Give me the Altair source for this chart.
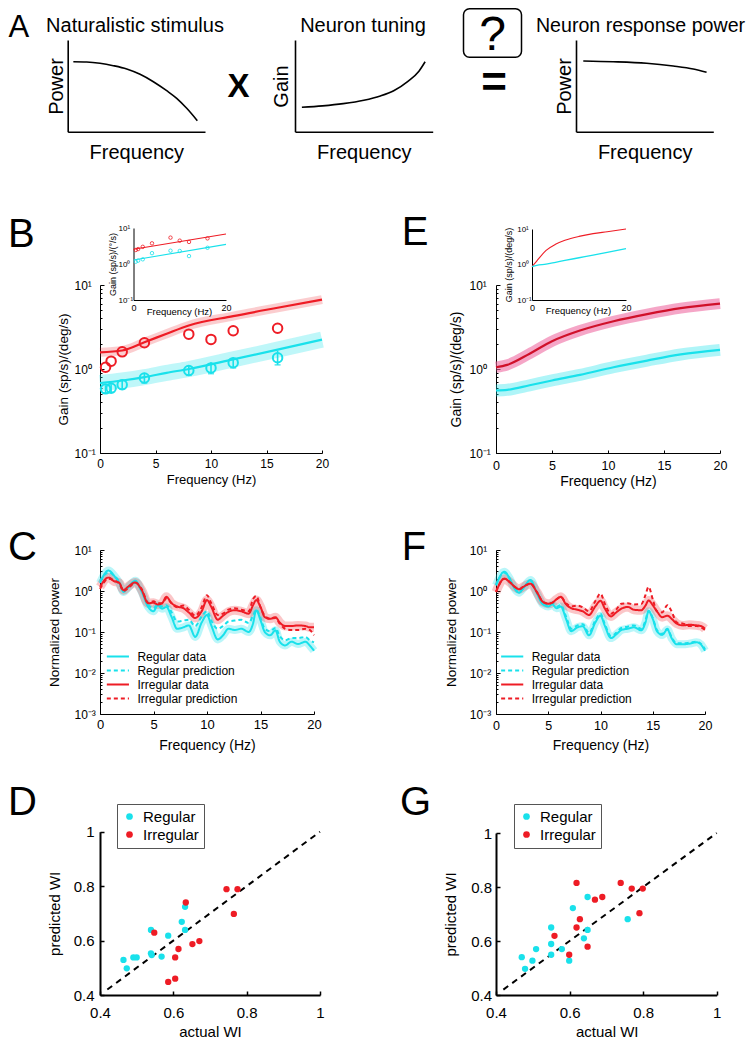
import altair as alt
import pandas as pd

W, H = 739, 1032
OFF = 8
FONT = "Liberation Sans"
CYAN = "#19e1eb"
RED = "#ee1c25"
DARKRED = "#d0102a"
BLACK = "#000000"


def P(v):
    return v - OFF


# ---------------- values ----------------
# A: schematic curves (axis units 0..1)
stim_freq = [0.041, 0.138, 0.235, 0.332, 0.43, 0.527, 0.624, 0.721, 0.794, 0.867, 0.944]
stim_power = [0.763, 0.76, 0.746, 0.72, 0.684, 0.626, 0.545, 0.447, 0.364, 0.255, 0.12]
tuning_freq = [0.05, 0.2, 0.35, 0.5, 0.62, 0.72, 0.82, 0.9, 0.945]
tuning_gain = [0.266, 0.282, 0.306, 0.343, 0.39, 0.45, 0.55, 0.66, 0.763]
resp_freq = [0.053, 0.27, 0.514, 0.708, 0.854, 0.951]
resp_power = [0.771, 0.763, 0.746, 0.716, 0.684, 0.648]

# B: gain, main plot
gainB_fit_freq = [0, 2, 4, 6, 8, 12, 16, 20]
gainB_fit_reg = [0.68, 0.73, 0.80, 0.90, 1.00, 1.30, 1.70, 2.24]
gainB_fit_irr = [1.58, 1.66, 2.08, 2.63, 3.30, 4.26, 5.36, 6.70]
gainB_data_freq = [0.5, 1, 2, 4, 8, 10, 12, 16]
gainB_data_reg = [0.58, 0.59, 0.65, 0.78, 0.96, 1.03, 1.19, 1.36]
gainB_data_reg_lo = [0.52, 0.53, 0.58, 0.68, 0.84, 0.88, 1.03, 1.12]
gainB_data_reg_hi = [0.64, 0.66, 0.73, 0.90, 1.10, 1.20, 1.38, 1.65]
gainB_data_irr = [1.05, 1.24, 1.60, 2.05, 2.60, 2.25, 2.85, 3.06]
# B: inset
insetB_fit_freq = [0, 20]
insetB_fit_reg = [1.29, 3.5]
insetB_fit_irr = [2.56, 6.8]
insetB_data_reg = [1.16, 1.24, 1.35, 2.0, 2.34, 2.3, 1.66, 2.82]
insetB_data_irr = [2.45, 2.6, 3.0, 3.75, 5.4, 4.45, 4.1, 5.15]

# E: model gain
gainE_freq = [0, 1, 3, 5, 7.5, 10.5, 13.5, 16.5, 20]
gainE_reg = [0.555, 0.565, 0.64, 0.73, 0.85, 1.05, 1.26, 1.49, 1.69]
gainE_irr = [1.05, 1.12, 1.52, 2.14, 2.87, 3.70, 4.50, 5.30, 6.00]
insetE_freq = [0, 1, 3, 5, 7, 10, 13, 16, 20]
insetE_reg = [0.87, 0.95, 1.02, 1.15, 1.3, 1.55, 1.85, 2.2, 2.8]
insetE_irr = [0.87, 1.25, 2.5, 3.7, 4.8, 6.2, 7.4, 8.4, 10.0]

# C / F: normalized power spectra
psd_freq = [0, 0.8, 1.3, 1.8, 2.2, 2.6, 3.3, 3.9, 4.5, 5.0, 5.4, 5.8, 6.2, 6.7, 7.2, 7.8,
            8.3, 8.9, 9.5, 10.0, 10.4, 11.0, 11.5, 12.0, 12.6, 13.2, 13.9, 14.3, 14.6, 15.0,
            15.4, 15.9, 16.4, 16.8, 17.3, 17.9, 18.5, 19.2, 19.6, 20]
C_reg_data = [1.58, 3.16, 2.4, 1.58, 0.95, 1.2, 1.78, 0.95, 0.41, 0.32, 0.45, 0.37, 0.41, 0.23,
              0.12, 0.13, 0.145, 0.076, 0.17, 0.26, 0.145, 0.066, 0.083, 0.12, 0.112, 0.12, 0.1,
              0.16, 0.34, 0.195, 0.1, 0.083, 0.11, 0.058, 0.047, 0.058, 0.051, 0.058, 0.047, 0.035]
C_reg_pred = [1.78, 2.82, 2.4, 1.66, 1.0, 1.2, 1.58, 1.0, 0.47, 0.38, 0.47, 0.42, 0.45, 0.30,
              0.18, 0.19, 0.2, 0.14, 0.24, 0.32, 0.19, 0.12, 0.14, 0.18, 0.19, 0.2, 0.166, 0.25,
              0.35, 0.22, 0.12, 0.105, 0.126, 0.079, 0.063, 0.071, 0.071, 0.076, 0.063, 0.056]
C_irr_data = [1.26, 2.14, 1.74, 1.58, 1.05, 1.26, 1.62, 1.05, 0.5, 0.52, 0.47, 0.5, 0.72, 0.5,
              0.42, 0.38, 0.3, 0.22, 0.32, 0.6, 0.41, 0.2, 0.25, 0.31, 0.34, 0.32, 0.28, 0.45,
              0.6, 0.41, 0.23, 0.21, 0.23, 0.17, 0.14, 0.14, 0.145, 0.14, 0.13, 0.13]
C_irr_pred = [1.12, 2.0, 1.82, 1.51, 1.0, 1.15, 1.58, 1.12, 0.52, 0.56, 0.5, 0.5, 0.66, 0.5,
              0.4, 0.44, 0.35, 0.25, 0.4, 0.79, 0.5, 0.26, 0.28, 0.35, 0.38, 0.35, 0.32, 0.63,
              0.76, 0.4, 0.25, 0.21, 0.22, 0.16, 0.12, 0.112, 0.112, 0.12, 0.112, 0.083]
F_reg_data = [1.38, 2.95, 2.04, 1.12, 0.91, 1.15, 1.86, 0.89, 0.47, 0.42, 0.47, 0.38, 0.42, 0.21,
              0.105, 0.13, 0.138, 0.083, 0.17, 0.25, 0.145, 0.071, 0.087, 0.112, 0.12, 0.13, 0.11,
              0.17, 0.32, 0.21, 0.105, 0.085, 0.115, 0.071, 0.05, 0.05, 0.052, 0.056, 0.05, 0.035]
F_reg_pred = [1.41, 2.8, 2.0, 1.15, 0.93, 1.15, 1.78, 0.93, 0.5, 0.45, 0.5, 0.42, 0.45, 0.24,
              0.12, 0.145, 0.155, 0.095, 0.19, 0.28, 0.16, 0.08, 0.095, 0.125, 0.135, 0.145, 0.12,
              0.19, 0.33, 0.22, 0.112, 0.09, 0.12, 0.075, 0.053, 0.053, 0.055, 0.058, 0.052, 0.038]
F_irr_data = [0.95, 2.0, 1.66, 1.26, 1.1, 1.26, 1.51, 0.95, 0.54, 0.49, 0.52, 0.63, 0.72, 0.47,
              0.38, 0.35, 0.32, 0.26, 0.42, 0.58, 0.38, 0.24, 0.3, 0.37, 0.41, 0.35, 0.34, 0.44,
              0.59, 0.45, 0.32, 0.23, 0.25, 0.21, 0.16, 0.145, 0.15, 0.145, 0.14, 0.12]
F_irr_pred = [0.95, 2.0, 1.66, 1.26, 1.1, 1.26, 1.51, 0.95, 0.54, 0.49, 0.52, 0.63, 0.72, 0.5,
              0.42, 0.44, 0.4, 0.32, 0.56, 0.87, 0.5, 0.28, 0.35, 0.49, 0.5, 0.47, 0.48, 0.79,
              1.26, 0.63, 0.32, 0.3, 0.45, 0.32, 0.17, 0.16, 0.14, 0.14, 0.13, 0.112]
psd_series = ["Regular data", "Regular prediction", "Irregular data", "Irregular prediction"]

# D / G: whitening index
D_reg_actual = [0.464, 0.473, 0.491, 0.5, 0.539, 0.539, 0.541, 0.568, 0.586, 0.623, 0.632, 0.632]
D_reg_pred = [0.529, 0.498, 0.538, 0.538, 0.639, 0.553, 0.547, 0.541, 0.618, 0.669, 0.724, 0.639]
D_irr_actual = [0.548, 0.586, 0.605, 0.605, 0.614, 0.634, 0.652, 0.671, 0.745, 0.775, 0.765]
D_irr_pred = [0.629, 0.448, 0.46, 0.538, 0.569, 0.74, 0.587, 0.598, 0.789, 0.789, 0.698]
G_reg_actual = [0.47, 0.479, 0.499, 0.509, 0.55, 0.55, 0.55, 0.579, 0.599, 0.609, 0.639, 0.649, 0.649, 0.758]
G_reg_pred = [0.54, 0.497, 0.527, 0.57, 0.65, 0.589, 0.549, 0.57, 0.527, 0.722, 0.61, 0.641, 0.763, 0.681]
G_irr_actual = [0.559, 0.599, 0.619, 0.619, 0.628, 0.649, 0.669, 0.689, 0.739, 0.769, 0.79, 0.799]
G_irr_pred = [0.619, 0.549, 0.815, 0.65, 0.681, 0.579, 0.753, 0.763, 0.815, 0.794, 0.703, 0.794]
unity_x = [0.42, 1.0]
unity_y = [0.42, 1.0]

# ---------------- helpers ----------------
MAJOR = "abs(log(datum.value)/LN10 - round(log(datum.value)/LN10)) < 0.001"
LOG_LABELS = ("datum.value > 5 ? '10\u00b9' : datum.value > 0.5 ? '10\u2070' : "
              "datum.value > 0.05 ? '10\u207b\u00b9' : datum.value > 0.005 ? '10\u207b\u00b2' : '10\u207b\u00b3'")
EMPTY = pd.DataFrame({"k": [0]})


def log_ticks(lo_exp, hi_exp):
    vals = []
    for e in range(lo_exp, hi_exp):
        for m in range(1, 10):
            vals.append(round(m * 10 ** e, 6))
    vals.append(round(10 ** hi_exp, 6))
    return vals


def sx(dom, x0, x1, typ="linear"):
    return alt.Scale(type=typ, domain=dom, range=[P(x0), P(x1)], nice=False, zero=False)


def sy(dom, ybot, ytop, typ="linear"):
    return alt.Scale(type=typ, domain=dom, range=[P(ybot), P(ytop)], nice=False, zero=False)


def x_axis(axis_y, title=None, tx=None, ty=None, values=None, lsize=12.5, tsize=14,
           lpad=6, dwidth=1.0, labels=True, fmt=None):
    kw = dict(orient="bottom", offset=P(axis_y) - H, grid=False, ticks=False, tickSize=0,
              domain=True, domainColor=BLACK, domainWidth=dwidth, labels=labels,
              labelFont=FONT, labelFontSize=lsize, labelColor=BLACK, labelPadding=lpad,
              labelFlush=False, labelOverlap=False, labelAngle=0,
              titleFont=FONT, titleFontSize=tsize, titleFontWeight="normal", titleColor=BLACK)
    if values is not None:
        kw["values"] = values
    if fmt is not None:
        kw["format"] = fmt
    if title is None:
        kw["title"] = None
    else:
        kw.update(title=title, titleX=P(tx), titleY=ty - axis_y, titleAlign="center",
                  titleBaseline="middle", titleAngle=0)
    return alt.Axis(**kw)


def y_axis(axis_x, title=None, tx=None, ty=None, values=None, lsize=12, tsize=14,
           lpad=6, dwidth=1.0, labels=True, align="right", lexpr=None, fmt=None):
    kw = dict(orient="left", offset=-P(axis_x), grid=False, ticks=False, tickSize=0,
              domain=True, domainColor=BLACK, domainWidth=dwidth, labels=labels,
              labelFont=FONT, labelFontSize=lsize, labelColor=BLACK, labelPadding=lpad,
              labelFlush=False, labelOverlap=False, labelAlign=align, labelBaseline="middle",
              titleFont=FONT, titleFontSize=tsize, titleFontWeight="normal", titleColor=BLACK)
    if values is not None:
        kw["values"] = values
    if lexpr is not None:
        kw["labelExpr"] = lexpr
    if fmt is not None:
        kw["format"] = fmt
    if title is None:
        kw["title"] = None
    else:
        kw.update(title=title, titleX=tx - axis_x, titleY=P(ty), titleAlign="center",
                  titleBaseline="middle", titleAngle=270)
    return alt.Axis(**kw)


def axis_child(df, xf, yf, xs, ys, xa, ya):
    """Invisible marks that only carry a panel's left and bottom axes."""
    return alt.Chart(df).mark_point(opacity=0).encode(
        x=alt.X(f"{xf}:Q", scale=xs, axis=xa), y=alt.Y(f"{yf}:Q", scale=ys, axis=ya))


def tick_child(df, xf, yf, xs, ys, axis_x, axis_y, xvals, yvals, size=3, width=1.0, log_minor=False):
    """Inward-pointing ticks (MATLAB style) drawn by a top / right axis sitting on the panel's axes."""
    ysize = size
    if log_minor:
        ysize = {"condition": {"test": MAJOR, "value": size + 1}, "value": size - 1}
    xa = alt.Axis(orient="top", offset=-P(axis_y), domain=False, labels=False, grid=False,
                  ticks=True, tickSize=size, tickWidth=width, tickColor=BLACK, values=xvals, title=None)
    ya = alt.Axis(orient="right", offset=P(axis_x) - W, domain=False, labels=False, grid=False,
                  ticks=True, tickSize=ysize, tickWidth=width, tickColor=BLACK, values=yvals, title=None)
    return alt.Chart(df).mark_point(opacity=0).encode(
        x=alt.X(f"{xf}:Q", scale=xs, axis=xa), y=alt.Y(f"{yf}:Q", scale=ys, axis=ya))


def text(s, x, y, size, weight="normal", align="center", baseline="alphabetic"):
    return alt.Chart(EMPTY).mark_text(text=s, font=FONT, fontSize=size, fontWeight=weight,
                                      align=align, baseline=baseline, color=BLACK).encode(
        x=alt.value(P(x)), y=alt.value(P(y)))


def Xf(field, xs):
    return alt.X(f"{field}:Q", scale=xs, axis=None)


def Yf(field, ys):
    return alt.Y(f"{field}:Q", scale=ys, axis=None)


children = []

# ---------------- Panel A ----------------
def schematic(freqs, vals, x0, x1, ytitle, ytitle_x):
    df = pd.DataFrame({"f": freqs, "v": vals})
    xs = sx([0, 1], x0, x1)
    ys = sy([0, 1], 131.7, 40)
    xa = x_axis(131.7, "Frequency", (x0 + x1) / 2, 152, labels=False, tsize=20, dwidth=1.6)
    ya = y_axis(x0, ytitle, ytitle_x, 86, labels=False, tsize=20, dwidth=1.6)
    return alt.Chart(df).mark_line(color=BLACK, strokeWidth=1.6, interpolate="monotone").encode(
        x=alt.X("f:Q", scale=xs, axis=xa), y=alt.Y("v:Q", scale=ys, axis=ya))


children.append(schematic(stim_freq, stim_power, 67.7, 205, "Power", 57))
children.append(schematic(tuning_freq, tuning_gain, 295, 432.7, "Gain", 281))
children.append(schematic(resp_freq, resp_power, 576, 713.3, "Power", 564.7))
children.append(text("Naturalistic stimulus", 135, 31.7, 20))
children.append(text("Neuron tuning", 363, 31.7, 20))
children.append(text("Neuron response power", 640.5, 31.7, 19.6))
children.append(text("X", 238.5, 97, 33, weight="bold"))
children.append(text("=", 494, 84, 44, weight="bold", baseline="middle"))
children.append(alt.Chart(EMPTY).mark_rect(fill="white", stroke=BLACK, strokeWidth=1.5, cornerRadius=6).encode(
    x=alt.value(P(463.5)), x2=alt.value(P(521.5)), y=alt.value(P(8.8)), y2=alt.value(P(57.3))))
children.append(text("?", 492.5, 50, 48))

# panel letters
children.append(text("A", 8.5, 36.5, 31, align="left"))
children.append(text("B", 8, 246.7, 40, align="left"))
children.append(text("E", 401.7, 245, 40, align="left"))
children.append(text("C", 8, 560, 40, align="left"))
children.append(text("F", 401.7, 560, 40, align="left"))
children.append(text("D", 8, 815, 40, align="left"))
children.append(text("G", 400, 815, 40, align="left"))

# ---------------- Panel B ----------------
bx = sx([0, 20], 100, 322)
by = sy([0.1, 10], 453, 285, "log")
B_reg = pd.DataFrame({"f": gainB_fit_freq, "g": gainB_fit_reg})
B_irr = pd.DataFrame({"f": gainB_fit_freq, "g": gainB_fit_irr})
B_pts = pd.DataFrame({"f": gainB_data_freq, "reg": gainB_data_reg, "lo": gainB_data_reg_lo,
                      "hi": gainB_data_reg_hi, "irr": gainB_data_irr})
bxa = x_axis(453, "Frequency (Hz)", 211, 479, values=[0, 5, 10, 15, 20], lsize=12, tsize=13, lpad=5.5)
bya = y_axis(100, "Gain (sp/s)/(deg/s)", 63.2, 369, values=[0.1, 1, 10], lsize=12, tsize=13.5,
             lpad=26, align="left", lexpr=LOG_LABELS)
children.append(alt.layer(
    alt.Chart(B_reg).mark_line(color=CYAN, opacity=0.28, strokeWidth=16, interpolate="monotone").encode(
        x=Xf("f", bx), y=Yf("g", by)),
    alt.Chart(B_irr).mark_line(color=RED, opacity=0.22, strokeWidth=9, interpolate="monotone").encode(
        x=Xf("f", bx), y=Yf("g", by)),
    alt.Chart(B_reg).mark_line(color=CYAN, strokeWidth=2.2, interpolate="monotone").encode(
        x=Xf("f", bx), y=Yf("g", by)),
    alt.Chart(B_irr).mark_line(color=RED, strokeWidth=2.2, interpolate="monotone").encode(
        x=Xf("f", bx), y=Yf("g", by)),
    alt.Chart(B_pts).mark_rule(color=CYAN, strokeWidth=1.6).encode(
        x=Xf("f", bx), y=Yf("lo", by), y2="hi:Q"),
    alt.Chart(B_pts).mark_point(shape="stroke", color=CYAN, size=36, strokeWidth=1.6).encode(
        x=Xf("f", bx), y=Yf("lo", by)),
    alt.Chart(B_pts).mark_point(shape="circle", filled=False, color=RED, size=90, strokeWidth=2, opacity=1).encode(
        x=Xf("f", bx), y=Yf("irr", by)),
    alt.Chart(B_pts).mark_point(shape="circle", filled=False, color=CYAN, size=90, strokeWidth=2, opacity=1).encode(
        x=Xf("f", bx), y=Yf("reg", by)),
))
children.append(axis_child(B_pts, "f", "reg", bx, by, bxa, bya))
children.append(tick_child(B_pts, "f", "reg", bx, by, 100, 453, [0, 5, 10, 15, 20], log_ticks(-1, 1),
                           size=3, log_minor=True))

# B inset
ibx = sx([0, 20], 133.5, 226)
iby = sy([0.1, 10], 300, 228, "log")
IB_fit = pd.DataFrame({"f": insetB_fit_freq, "reg": insetB_fit_reg, "irr": insetB_fit_irr})
IB_pts = pd.DataFrame({"f": gainB_data_freq, "reg": insetB_data_reg, "irr": insetB_data_irr})
ibxa = x_axis(300, "Frequency (Hz)", 179, 311, values=[0, 20], lsize=9, tsize=9.5, lpad=3)
ibya = y_axis(133.5, "Gain (sp/s)/(\u00b0/s)", 112.1, 264, values=[0.1, 1, 10], lsize=8, tsize=9,
              lpad=15.5, align="left", lexpr=LOG_LABELS)
children.append(alt.layer(
    alt.Chart(IB_fit).mark_line(color=RED, strokeWidth=1.1).encode(x=Xf("f", ibx), y=Yf("irr", iby)),
    alt.Chart(IB_fit).mark_line(color=CYAN, strokeWidth=1.1).encode(x=Xf("f", ibx), y=Yf("reg", iby)),
    alt.Chart(IB_pts).mark_point(shape="circle", filled=False, color=RED, size=12, strokeWidth=0.8, opacity=1).encode(
        x=Xf("f", ibx), y=Yf("irr", iby)),
    alt.Chart(IB_pts).mark_point(shape="circle", filled=False, color=CYAN, size=12, strokeWidth=0.8, opacity=1).encode(
        x=Xf("f", ibx), y=Yf("reg", iby)),
))
children.append(axis_child(IB_pts, "f", "reg", ibx, iby, ibxa, ibya))

# ---------------- Panel E ----------------
ex = sx([0, 20], 496, 720)
ey = sy([0.1, 10], 453, 285, "log")
E_fit = pd.DataFrame({"f": gainE_freq, "reg": gainE_reg, "irr": gainE_irr})
exa = x_axis(453, "Frequency (Hz)", 608, 481, values=[0, 5, 10, 15, 20], lsize=12.5, tsize=14, lpad=6.5)
eya = y_axis(496, "Gain (sp/s)/(deg/s)", 456.4, 369, values=[0.1, 1, 10], lsize=12, tsize=14,
             lpad=27, align="left", lexpr=LOG_LABELS)
children.append(alt.layer(
    alt.Chart(E_fit).mark_line(color="#ee6aa2", opacity=0.6, strokeWidth=11, interpolate="monotone").encode(
        x=Xf("f", ex), y=Yf("irr", ey)),
    alt.Chart(E_fit).mark_line(color=CYAN, opacity=0.35, strokeWidth=12, interpolate="monotone").encode(
        x=Xf("f", ex), y=Yf("reg", ey)),
    alt.Chart(E_fit).mark_line(color=DARKRED, strokeWidth=2.2, interpolate="monotone").encode(
        x=Xf("f", ex), y=Yf("irr", ey)),
    alt.Chart(E_fit).mark_line(color=CYAN, strokeWidth=2.2, interpolate="monotone").encode(
        x=Xf("f", ex), y=Yf("reg", ey)),
))
children.append(axis_child(E_fit, "f", "reg", ex, ey, exa, eya))
children.append(tick_child(E_fit, "f", "reg", ex, ey, 496, 453, [0, 5, 10, 15, 20], log_ticks(-1, 1),
                           size=3, log_minor=True))

# E inset
iex = sx([0, 20], 532, 626)
iey = sy([0.1, 10], 300, 229, "log")
IE_fit = pd.DataFrame({"f": insetE_freq, "reg": insetE_reg, "irr": insetE_irr})
iexa = x_axis(300, "Frequency (Hz)", 578, 310.5, values=[0, 20], lsize=9, tsize=9.5, lpad=3)
ieya = y_axis(532, "Gain (sp/s)/(deg/s)", 508.7, 264.5, values=[0.1, 1, 10], lsize=8, tsize=9,
              lpad=15.3, align="left", lexpr=LOG_LABELS)
children.append(alt.layer(
    alt.Chart(IE_fit).mark_line(color=RED, strokeWidth=1.1, interpolate="monotone").encode(
        x=Xf("f", iex), y=Yf("irr", iey)),
    alt.Chart(IE_fit).mark_line(color=CYAN, strokeWidth=1.3, interpolate="monotone").encode(
        x=Xf("f", iex), y=Yf("reg", iey)),
))
children.append(axis_child(IE_fit, "f", "reg", iex, iey, iexa, ieya))


# ---------------- Panels C / F ----------------
def psd_panel(x0, x1, reg_d, reg_p, irr_d, irr_p, xtitle_x, ytitle_x, leg_x, lpad_x, lsize_x, lpad_y):
    n = len(psd_freq)
    df = pd.DataFrame({
        "f": psd_freq + psd_freq + psd_freq + psd_freq,
        "p": reg_d + reg_p + irr_d + irr_p,
        "s": [psd_series[0]] * n + [psd_series[1]] * n + [psd_series[2]] * n + [psd_series[3]] * n,
    })
    xs = sx([0, 20], x0, x1)
    ys = sy([0.001, 10], 714, 550, "log")
    xa = x_axis(714, "Frequency (Hz)", xtitle_x, 745.8, values=[0, 5, 10, 15, 20], lsize=lsize_x,
                tsize=14, lpad=lpad_x)
    ya = y_axis(x0, "Normalized power", ytitle_x, 632, values=[0.001, 0.01, 0.1, 1, 10], lsize=12,
                tsize=13.5, lpad=lpad_y, align="left", lexpr=LOG_LABELS)
    leg = alt.Legend(orient="none", legendX=P(leg_x), legendY=P(649), title=None, padding=0,
                     labelFont=FONT, labelFontSize=12, labelColor=BLACK, symbolType="M-1.75,0H1.75",
                     symbolSize=160, symbolStrokeWidth=2, labelOffset=12, rowPadding=-7)
    panel = alt.layer(
        alt.Chart(df).transform_filter(alt.datum.s == psd_series[0]).mark_line(
            color=CYAN, opacity=0.3, strokeWidth=8, interpolate="monotone").encode(
            x=Xf("f", xs), y=Yf("p", ys)),
        alt.Chart(df).transform_filter(alt.datum.s == psd_series[2]).mark_line(
            color=RED, opacity=0.25, strokeWidth=9, interpolate="monotone").encode(
            x=Xf("f", xs), y=Yf("p", ys)),
        alt.Chart(df).mark_line(strokeWidth=2, interpolate="monotone").encode(
            x=Xf("f", xs), y=Yf("p", ys),
            color=alt.Color("s:N", scale=alt.Scale(domain=psd_series, range=[CYAN, CYAN, RED, RED]), legend=leg),
            strokeDash=alt.StrokeDash("s:N", scale=alt.Scale(domain=psd_series,
                                                             range=[[1, 0], [4, 3], [1, 0], [4, 3]]), legend=leg)),
    )
    axes = axis_child(df, "f", "p", xs, ys, xa, ya)
    ticks = tick_child(df, "f", "p", xs, ys, x0, 714, [0, 5, 10, 15, 20], log_ticks(-3, 1),
                       size=3, log_minor=True)
    return [panel, axes, ticks]


children += psd_panel(100, 314, C_reg_data, C_reg_pred, C_irr_data, C_irr_pred, 207, 54.9, 110.4, 4.4, 13, 26)
children += psd_panel(496, 705, F_reg_data, F_reg_pred, F_irr_data, F_irr_pred, 600.5, 451.4, 504.7, 5, 12.5, 26.7)


# ---------------- Panels D / G ----------------
def wi_panel(x0, x1, ytop, reg_a, reg_p, irr_a, irr_p, xtitle_x, ytitle_x, lpad_y, leg_x):
    df = pd.DataFrame({
        "actual": reg_a + irr_a,
        "pred": reg_p + irr_p,
        "type": ["Regular"] * len(reg_a) + ["Irregular"] * len(irr_a),
    })
    unity = pd.DataFrame({"a": unity_x, "p": unity_y})
    xs = sx([0.4, 1], x0, x1)
    ys = sy([0.4, 1], 995, ytop)
    xa = x_axis(995, "actual WI", xtitle_x, 1031.2, values=[0.4, 0.6, 0.8, 1], lsize=15, tsize=15,
                lpad=10, dwidth=2, fmt="~g")
    ya = y_axis(x0, "predicted WI", ytitle_x, (995 + ytop) / 2, values=[0.4, 0.6, 0.8, 1], lsize=15,
                tsize=15, lpad=lpad_y, dwidth=2, fmt="~g")
    leg = alt.Legend(orient="none", legendX=P(leg_x), legendY=P(804), title=None, padding=5,
                     strokeColor="#555555", fillColor="white", labelFont=FONT, labelFontSize=15,
                     labelColor=BLACK, symbolType="circle", symbolSize=45, symbolStrokeWidth=0,
                     labelOffset=6, rowPadding=2)
    panel = alt.layer(
        alt.Chart(unity).mark_line(color=BLACK, strokeWidth=2, strokeDash=[6, 5]).encode(
            x=Xf("a", xs), y=Yf("p", ys)),
        alt.Chart(df).mark_circle(size=40, opacity=1).encode(
            x=Xf("actual", xs), y=Yf("pred", ys),
            color=alt.Color("type:N", scale=alt.Scale(domain=["Regular", "Irregular"], range=[CYAN, RED]),
                            legend=leg)),
    )
    axes = axis_child(df, "actual", "pred", xs, ys, xa, ya)
    ticks = tick_child(df, "actual", "pred", xs, ys, x0, 995, [0.4, 0.6, 0.8, 1], [0.4, 0.6, 0.8, 1],
                       size=4, width=1.5)
    return [panel, axes, ticks]


children += wi_panel(100, 320, 831.7, D_reg_actual, D_reg_pred, D_irr_actual, D_irr_pred, 210, 54, 6, 117)
children += wi_panel(496, 716.7, 833, G_reg_actual, G_reg_pred, G_irr_actual, G_irr_pred, 606.7, 450.6, 4.5, 514)

chart = alt.layer(*children).resolve_scale(
    x="independent", y="independent", color="independent", strokeDash="independent"
).resolve_axis(
    x="independent", y="independent"
).resolve_legend(
    color="independent", strokeDash="independent"
).properties(
    width=W, height=H, padding=0, autosize=alt.AutoSizeParams(type="none"), background="white"
).configure_view(stroke=None)

chart.save("out.html", embed_options={"renderer": "svg", "actions": False})
